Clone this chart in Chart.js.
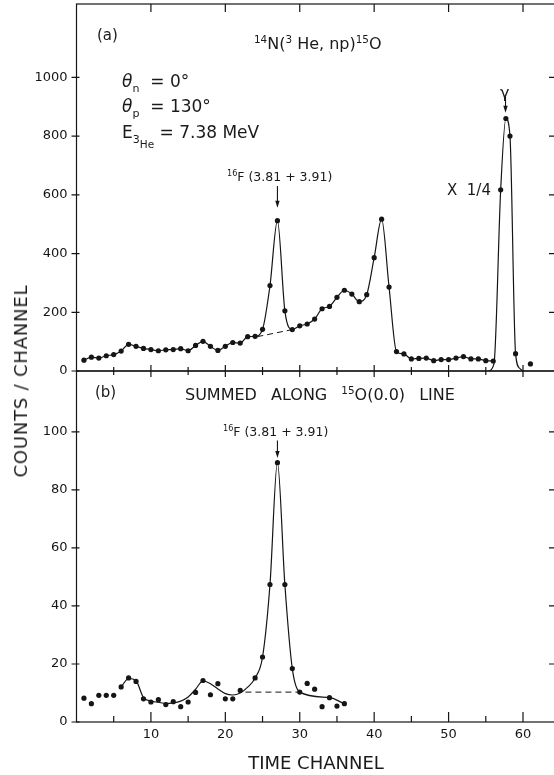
<!DOCTYPE html>
<html><head><meta charset="utf-8">
<script src="https://cdn.jsdelivr.net/npm/chart.js@4.4.1/dist/chart.umd.min.js"></script>
<style>
html,body{margin:0;padding:0;background:#fff;}
body{width:554px;height:775px;overflow:hidden;position:relative;font-family:"DejaVu Sans",sans-serif;color:#1a1a1a;}
canvas{position:absolute;left:0;}
.t{position:absolute;white-space:nowrap;line-height:1;transform:translateY(-50%);}
.sp{position:relative;font-size:65%;top:-0.6em;}
.sb{position:relative;font-size:65%;top:0.45em;}
</style></head><body>
<canvas id="ca" width="560" height="380" style="top:0"></canvas>
<canvas id="cb" width="560" height="415" style="top:360px"></canvas>

<div class="t" style="left:97px;top:35px;font-size:15px;">(a)</div>
<div class="t" style="left:254px;top:44px;font-size:16px;"><span class="sp">14</span>N(<span class="sp">3</span> He, np)<span class="sp">15</span>O</div>
<div class="t" style="left:122px;top:81px;font-size:17px;"><i>θ</i><span class="sb">n</span>&nbsp; = 0°</div>
<div class="t" style="left:122px;top:106px;font-size:17px;"><i>θ</i><span class="sb">p</span>&nbsp; = 130°</div>
<div class="t" style="left:122px;top:132px;font-size:17px;">E<span class="sb">3<span class="sb" style="font-size:95%">He</span></span> = 7.38 MeV</div>
<div class="t" style="left:227px;top:177px;font-size:12.5px;"><span class="sp">16</span>F (3.81 + 3.91)</div>
<div class="t" style="left:447px;top:190px;font-size:15px;">X&nbsp; 1/4</div>
<div class="t" style="left:500px;top:93px;font-size:16px;">γ</div>
<div class="t" style="left:95px;top:392px;font-size:15px;">(b)</div>
<div class="t" style="left:185px;top:395px;font-size:16px;word-spacing:9px;">SUMMED ALONG <span class="sp">15</span>O(0.0) LINE</div>
<div class="t" style="left:223px;top:432px;font-size:12.5px;"><span class="sp">16</span>F (3.81 + 3.91)</div>
<div class="t" style="left:21px;top:381px;font-size:18px;letter-spacing:0.8px;transform:translate(-50%,-50%) rotate(-90deg);">COUNTS / CHANNEL</div>
<div class="t" style="left:316px;top:763px;font-size:18px;transform:translate(-50%,-50%);">TIME CHANNEL</div>

<script>
// ---------- data ----------
// Panel (a): 14N(3He,np)15O spectrum
const channelsA = [1,2,3,4,5,6,7,8,9,10,11,12,13,14,15,16,17,18,19,20,21,22,23,24,25,26,27,28,29,30,
  31,32,33,34,35,36,37,38,39,40,41,42,43,44,45,46,47,48,49,50,51,52,53,54,55,56];
const countsA = [37,47,44,52,56,68,91,84,77,73,69,72,73,76,69,87,101,84,70,84,97,95,117,118,142,291,512,205,141,154,
  160,177,212,220,251,275,262,236,260,386,517,286,66,58,41,43,44,35,39,39,44,49,41,41,35,34];
// gamma peak (plotted x 1/4)
const gammaChannels = [57,57.7,58.25,59];
const gammaCounts = [617,860,800,59];
// drawn gamma curve (traced)
const gammaCurveX = [55.4,56.1,57,57.7,58.25,59,59.6,60];
const gammaCurveY = [0,25,617,860,800,59,8,0];
// lone point after gamma peak
const extraChannelsA = [61];
const extraCountsA = [24];
// dashed background under 16F peak
const baseAX = [24.3,29];
const baseAY = [117,141];

// Panel (b): summed along 15O(0.0) line
const channelsB = [1,2,3,4,5,6,7,8,9,10,11,12,13,14,15,16,17,18,19,20,21,22,23,24,25,26,27,28,29,30,31,32,33,34,35,36];
const countsB = [8.2,6.3,9.2,9.2,9.2,12.1,15.2,14.0,8.0,6.9,7.7,6.0,7.0,5.3,6.9,10.2,14.3,9.4,13.2,8.0,8.0,10.9,null,15.2,22.4,
  47.4,89.4,47.4,18.4,10.3,13.3,11.3,5.3,8.4,5.5,6.3];
// drawn smooth curve (traced)
const fitBX = [6,7,8,9,10,11,12,13,14,15,16,17,18,19,20,21,22,23,24,25,26,27,28,29,30,34,36];
const fitBY = [12.1,15.0,14.2,8.4,7.2,6.8,6.4,6.6,7.2,8.6,11.3,14.2,13.2,11.4,9.8,9.3,10.0,12.0,15.2,22.4,47.4,89.4,47.4,18.4,10.3,8.4,6.3];
const baseBX = [22.7,30];
const baseBY = [10.3,10.3];

// tick labels
const xMajorTicks = [10,20,30,40,50,60];
const xMinorTicks = [5,15,25,35,45,55];
const yTicksA = [0,200,400,600,800,1000];
const yTicksB = [0,20,40,60,80,100];

// ---------- helpers ----------
const INK = '#151515';
const pts = (xs, ys) => xs.map((x,i)=>({x, y: ys[i]}));
const FONT = {family:'"DejaVu Sans", sans-serif', size:13};
const noPad = s => { s.paddingTop = 0; s.paddingBottom = 0; s.paddingLeft = 0; s.paddingRight = 0; };

const framePlugin = {
  id:'frame',
  afterDatasetsDraw(chart, args, o){
    const {ctx, chartArea:{left,top,right,bottom}, scales:{x,y}} = chart;
    ctx.save();
    ctx.strokeStyle = INK; ctx.lineWidth = 1.2;
    ctx.strokeRect(left, top, right-left, bottom-top);
    ctx.beginPath();
    o.yTicks.forEach(v=>{
      const py = y.getPixelForValue(v);
      ctx.moveTo(left-5, py); ctx.lineTo(left+3, py);
      if (v>0){ ctx.moveTo(right-6, py); ctx.lineTo(right, py); }
    });
    xMajorTicks.forEach(v=>{
      const px = x.getPixelForValue(v);
      if (o.panel==='a'){
        ctx.moveTo(px, bottom-6); ctx.lineTo(px, bottom+6);
        ctx.moveTo(px, top); ctx.lineTo(px, top+8);
      } else {
        ctx.moveTo(px, bottom); ctx.lineTo(px, bottom-10);
      }
    });
    xMinorTicks.forEach(v=>{
      const px = x.getPixelForValue(v);
      if (o.panel==='a'){ ctx.moveTo(px, bottom-4); ctx.lineTo(px, bottom+4); }
      else { ctx.moveTo(px, bottom); ctx.lineTo(px, bottom-6); }
    });
    ctx.stroke();
    (o.arrows||[]).forEach(a=>{
      const px = x.getPixelForValue(a.x), y1 = y.getPixelForValue(a.from), y2 = y.getPixelForValue(a.to);
      ctx.beginPath(); ctx.lineWidth = 1.1;
      ctx.moveTo(px, y1); ctx.lineTo(px, y2-4); ctx.stroke();
      ctx.beginPath(); ctx.fillStyle = INK;
      ctx.moveTo(px-2.2, y2-7); ctx.lineTo(px+2.2, y2-7); ctx.lineTo(px, y2); ctx.closePath(); ctx.fill();
    });
    ctx.restore();
  }
};

const markStyle = {borderColor:INK, pointBackgroundColor:INK, pointBorderWidth:0, pointRadius:2.6, borderWidth:1.2};
const yTickOpts = {padding:9, color:INK, font:FONT, callback:v=>String(v)};

new Chart(document.getElementById('ca'), {
  type:'line',
  data:{datasets:[
    {...markStyle, data:pts(channelsA,countsA), cubicInterpolationMode:'monotone'},
    {...markStyle, data:pts(baseAX,baseAY), pointRadius:0, borderDash:[6,4], borderWidth:1},
    {...markStyle, data:pts(gammaCurveX,gammaCurveY), pointRadius:0, cubicInterpolationMode:'monotone'},
    {...markStyle, data:pts(gammaChannels,gammaCounts), showLine:false},
    {...markStyle, data:pts(extraChannelsA,extraCountsA), showLine:false},
  ]},
  options:{
    responsive:false, animation:false, devicePixelRatio:1,
    layout:{padding:{top:4,bottom:9,left:0,right:5}},
    scales:{
      x:{type:'linear', min:0, max:64.3, display:false},
      y:{type:'linear', min:0, max:1250,
        afterBuildTicks:s=>{s.ticks = yTicksA.map(v=>({value:v}));},
        afterFit:s=>{s.width = 76.5; noPad(s);},
        grid:{display:false, drawTicks:false}, border:{display:false},
        ticks:yTickOpts}
    },
    plugins:{legend:{display:false}, tooltip:{enabled:false},
      frame:{panel:'a', yTicks:yTicksA, arrows:[{x:27,from:630,to:556},{x:57.65,from:935,to:880}]}}
  },
  plugins:[framePlugin]
});

new Chart(document.getElementById('cb'), {
  type:'line',
  data:{datasets:[
    {...markStyle, data:pts(channelsB,countsB), showLine:false},
    {...markStyle, data:pts(fitBX,fitBY), pointRadius:0, cubicInterpolationMode:'monotone'},
    {...markStyle, data:pts(baseBX,baseBY), pointRadius:0, borderDash:[6,4], borderWidth:1},
  ]},
  options:{
    responsive:false, animation:false, devicePixelRatio:1,
    layout:{padding:{top:11,bottom:0,left:0,right:5}},
    scales:{
      x:{type:'linear', min:0, max:64.3,
        afterBuildTicks:s=>{s.ticks = xMajorTicks.map(v=>({value:v}));},
        afterFit:s=>{s.height = 53; noPad(s);},
        grid:{display:false, drawTicks:false}, border:{display:false},
        ticks:{padding:5, color:INK, font:FONT, maxRotation:0, autoSkip:false, callback:v=>String(v)}},
      y:{type:'linear', min:0, max:121,
        afterBuildTicks:s=>{s.ticks = yTicksB.map(v=>({value:v}));},
        afterFit:s=>{s.width = 76.5; noPad(s);},
        grid:{display:false, drawTicks:false}, border:{display:false},
        ticks:yTickOpts}
    },
    plugins:{legend:{display:false}, tooltip:{enabled:false},
      frame:{panel:'b', yTicks:yTicksB, arrows:[{x:27,from:97,to:91}]}}
  },
  plugins:[framePlugin]
});
</script>
</body></html>
